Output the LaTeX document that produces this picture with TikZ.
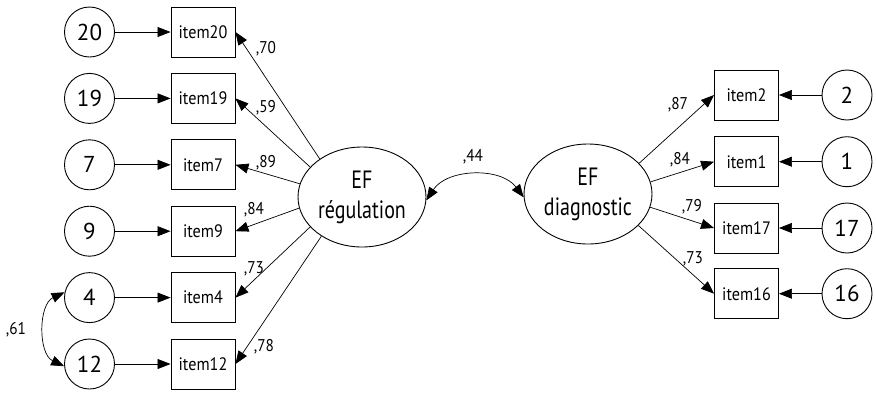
\documentclass[tikz,border=0pt]{standalone}
\usepackage{fontspec}
\setmainfont{PT Sans}
\newfontfamily\condfont[FakeStretch=0.8]{PT Sans}
\newfontfamily\itemfont[FakeStretch=0.9]{PT Sans}
\usetikzlibrary{arrows.meta,shapes.geometric}
\begin{document}
\begin{tikzpicture}[x=1pt,y=-1pt,
  obs/.style={draw, line width=0.9pt, minimum width=64pt, minimum height=50pt, inner sep=0pt, font=\itemfont\fontsize{18}{20}\selectfont},
  err/.style={draw, circle, line width=0.9pt, minimum size=50pt, inner sep=0pt, font=\fontsize{23}{25}\selectfont},
  lat/.style={draw, ellipse, line width=0.9pt, minimum width=128pt, minimum height=100pt, inner sep=0pt, align=center, font=\condfont\fontsize{25}{30}\selectfont},
  arr/.style={-{Triangle[length=13pt,width=10pt]}, line width=0.7pt},
  darr/.style={{Triangle[length=13pt,width=10pt]}-{Triangle[length=13pt,width=10pt]}, line width=0.7pt},
  lab/.style={font=\itemfont\fontsize{17}{19}\selectfont, inner sep=0pt}]
\useasboundingbox (0,0) rectangle (876,392);
% left side
\foreach \n/\y in {20/32, 19/98.4, 7/164.8, 9/231.2, 4/297.6, 12/364}{
  \node[err] (c\n) at (89.5,\y) {\n};
  \node[obs] (i\n) at (203,\y) {item\n};
  \draw[arr] (c\n) -- (i\n);
}
% right side
\foreach \n/\y in {2/95, 1/161.7, 17/228, 16/293.7}{
  \node[err] (c\n) at (847,\y) {\n};
  \node[obs] (i\n) at (746.5,\y) {item\n};
  \draw[arr] (c\n) -- (i\n);
}
% latent
\node[lat] (reg) at (362,197) {EF\\régulation};
\node[lat] (diag) at (588,194) {EF\\diagnostic};
% loadings
\draw[arr] (reg.138) -- (i20.east);
\draw[arr] (reg.150) -- (i19.east);
\draw[arr] (reg.168) -- (i7.east);
\draw[arr] (reg.190) -- (i9.east);
\draw[arr] (reg.210) -- (i4.east);
\draw[arr] (reg.224) -- (i12.east);
\draw[arr] (diag.31) -- (i2.west);
\draw[arr] (diag.11) -- (i1.west);
\draw[arr] (diag.-12) -- (i17.west);
\draw[arr] (diag.-32) -- (i16.west);
% covariances
\draw[darr] (reg.-3) to[bend left=55] (diag.183);
\draw[darr] (c4.168) to[bend right=65] (c12.185);
% labels
\node[lab] (l70) at (266,49) {,70};
\node[lab] (l59) at (266,108) {,59};
\node[lab] (l89) at (266,163) {,89};
\node[lab] (l84) at (254,210) {,84};
\node[lab] (l73) at (254,269) {,73};
\node[lab] (l78) at (264,347) {,78};
\node[lab] (l87) at (678,105) {,87};
\node[lab] (l84b) at (680,160) {,84};
\node[lab] (l79) at (692,207) {,79};
\node[lab] (l73b) at (693,259) {,73};
\node[lab] (l44) at (473,157) {,44};
\node[lab] (l61) at (16,330) {,61};
\end{tikzpicture}
\end{document}
